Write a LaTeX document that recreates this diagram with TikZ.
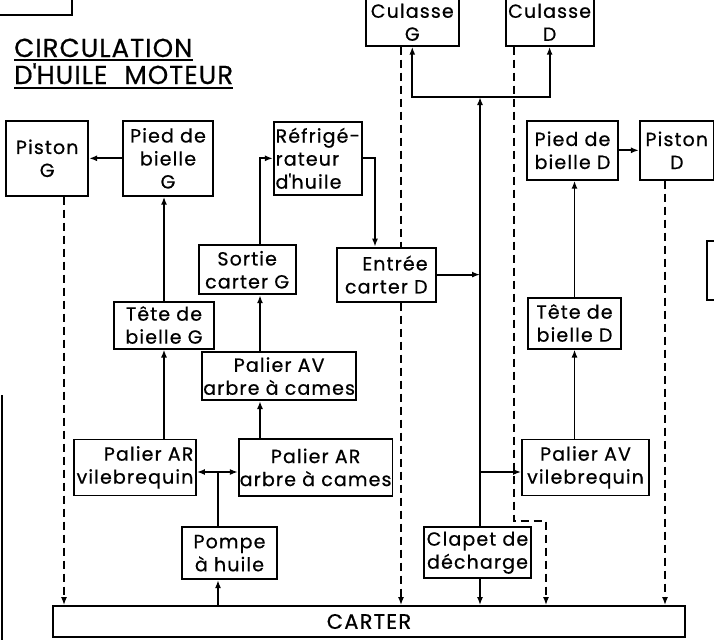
\documentclass[tikz,border=0pt]{standalone}
\usepackage{fontspec}
\setmainfont{Poppins}[LetterSpace=6, FakeBold=0.6]
\usetikzlibrary{arrows.meta, positioning}
\tikzstyle{bloc} = [rectangle, draw, line width=1.8pt, fill=white, inner sep=1pt, align=center, font=\fontsize{19}{23}\selectfont]
\tikzstyle{titre} = [anchor=base west, inner sep=0pt, font=\fontsize{26}{28}\selectfont\addfontfeatures{LetterSpace=4}]
\tikzstyle{flux} = [line width=1.8pt, ->, >={Latex[length=8pt,width=6pt]}]
\tikzstyle{retour} = [flux, dash pattern=on 8pt off 5pt]
\tikzstyle{cadre} = [line width=1.8pt]

\begin{document}
\begin{tikzpicture}[x=1pt, y=-1pt]
  \useasboundingbox (0,0) rectangle (714,640);
  \node (titreA) [titre] at (14,57) {CIRCULATION};
  \node (titreB) [titre] at (14,84) {D\textquotesingle HUILE\hspace{9pt} MOTEUR};
  \draw [cadre] ([yshift=-3pt]titreA.base west) -- ([yshift=-3pt]titreA.base east);
  \draw [cadre] ([yshift=-4pt]titreB.base west) -- ([yshift=-4pt]titreB.base east);
  \node (carter) [bloc, minimum width=632pt, minimum height=31pt, font=\fontsize{21}{24}\selectfont] at (369,621.5) {CARTER};
  \node (pompe) [bloc, minimum width=95pt, minimum height=52pt, above=25pt of carter, xshift=-139.5pt] {Pompe\\à huile};
  \node (clapet) [bloc, minimum width=107pt, minimum height=51pt, above=26pt of carter, xshift=108.5pt] {Clapet de\\décharge};
  \node (palARvil) [bloc, minimum width=122pt, minimum height=56pt, align=right, above=30pt of pompe, xshift=-94.5pt] {Palier AR\\vilebrequin};
  \node (palARcam) [bloc, minimum width=152pt, minimum height=57pt, right=41pt of palARvil] {Palier AR\\arbre à cames};
  \node (palAVcam) [bloc, minimum width=151pt, minimum height=48pt, above=37pt of palARcam, xshift=-36.5pt] {Palier AV\\arbre à cames};
  \node (sortieG) [bloc, minimum width=97pt, minimum height=49pt, above=56pt of palAVcam, xshift=-32pt] {Sortie\\carter G};
  \node (teteG) [bloc, minimum width=100pt, minimum height=47pt, above=89pt of palARvil, xshift=29pt] {Tête de\\bielle G};
  \node (piedG) [bloc, minimum width=90pt, minimum height=75pt, above=104pt of teteG, xshift=4pt] {Pied de\\bielle\\G};
  \node (pistonG) [bloc, minimum width=82pt, minimum height=75pt, left=33pt of piedG] {Piston\\G};
  \node (refrig) [bloc, minimum width=88pt, minimum height=73pt, align=left, right=59pt of piedG] {Réfrigé-\\rateur\\d\textquotesingle huile};
  \node (entreeD) [bloc, minimum width=99pt, minimum height=54pt, align=right, below=51pt of refrig, xshift=68.5pt] {Entrée\\carter D};
  \node (culG) [bloc, minimum width=93pt, minimum height=47pt, above=200pt of entreeD, xshift=26pt] {Culasse\\G};
  \node (culD) [bloc, minimum width=88pt, minimum height=47pt, right=45pt of culG] {Culasse\\D};
  \node (palAVvil) [bloc, minimum width=127pt, minimum height=56pt, above=30pt of clapet, xshift=108pt] {Palier AV\\vilebrequin};
  \node (teteD) [bloc, minimum width=93pt, minimum height=51pt, above=89pt of palAVvil, xshift=-11pt] {Tête de\\bielle D};
  \node (piedD) [bloc, minimum width=91pt, minimum height=59pt, above=116pt of teteD, xshift=-2pt] {Pied de\\bielle D};
  \node (pistonD) [bloc, minimum width=74pt, minimum height=59pt, right=20pt of piedD] {Piston\\D};
  % points de passage
  \coordinate (jpompe) at (218,472);
  \coordinate (xcam) at (260,0);
  \coordinate (xrefr) at (375,0);
  \coordinate (jcul) at (480,97);
  \coordinate (jvil) at (480,472);
  \coordinate (xpg) at (64,0);
  \coordinate (xcg) at (401,0);
  \coordinate (coude) at (514,521);
  \coordinate (jdech) at (546,521);
  \coordinate (xpd) at (665,0);
  % circuit sous pression
  \draw [flux] (carter.north -| jpompe) -- (pompe.south -| jpompe);
  \draw [cadre] (pompe.north -| jpompe) -- (jpompe);
  \draw [flux] (jpompe) -- (palARvil.east |- jpompe);
  \draw [flux] (jpompe) -- (palARcam.west |- jpompe);
  \draw [flux] (teteG.south |- palARvil.north) -- (teteG.south);
  \draw [flux] (teteG.north) -- (teteG.north |- piedG.south);
  \draw [flux] (piedG.west) -- (pistonG.east);
  \draw [flux] (xcam |- palARcam.north) -- (xcam |- palAVcam.south);
  \draw [flux] (xcam |- palAVcam.north) -- (xcam |- sortieG.south);
  \draw [flux] (xcam |- sortieG.north) |- (refrig.west);
  \draw [flux] (refrig.east) -| (xrefr |- entreeD.north);
  \draw [flux] (entreeD.east) -- (entreeD.east -| jcul);
  \draw [flux] (clapet.north -| jcul) -- (jcul);
  \draw [flux] (jcul) -| (culG.south);
  \draw [flux] (jcul) -| (culD.south);
  \draw [flux] (jvil) -- (palAVvil.west |- jvil);
  \draw [flux] (clapet.south -| jcul) -- (carter.north -| jcul);
  \draw [flux] (teteD.south |- palAVvil.north) -- (teteD.south);
  \draw [flux] (teteD.north) -- (teteD.north |- piedD.south);
  \draw [flux] (piedD.east) -- (pistonD.west);
  % retours au carter
  \draw [retour] (xpg |- pistonG.south) -- (xpg |- carter.north);
  \draw [retour, -] (xcg |- culG.south) -- (xcg |- entreeD.north);
  \draw [retour] (xcg |- entreeD.south) -- (xcg |- carter.north);
  \draw [retour] (coude |- culD.south) -- (coude) -- (jdech) -- (jdech |- carter.north);
  \draw [retour] (xpd |- pistonD.south) -- (xpd |- carter.north);
  % bords de page
  \draw [cadre] (0,15) -- (72,15) -- (72,0);
  \draw [cadre] (2,395) -- (2,640);
  \draw [cadre] (714,241) -- (707,241) -- (707,300) -- (714,300);
\end{tikzpicture}
\end{document}
